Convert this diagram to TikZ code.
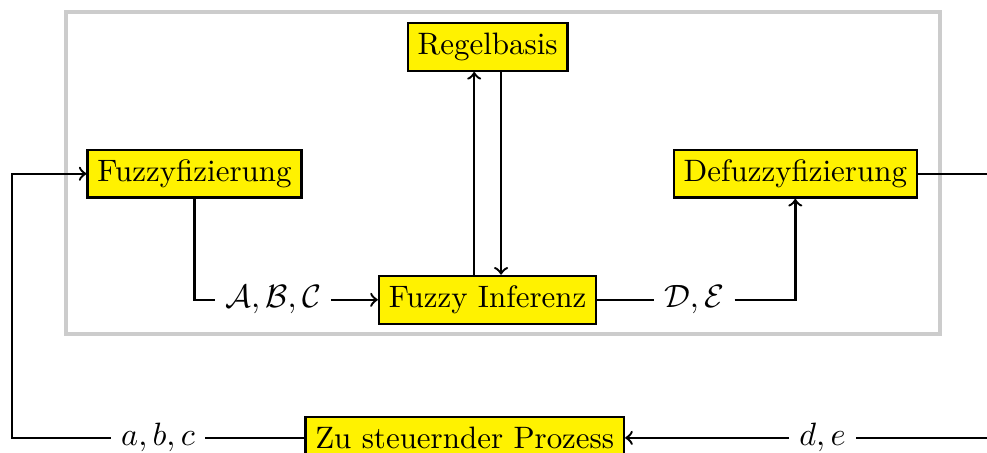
\documentclass[tikz,border=0pt]{standalone}
\usetikzlibrary{calc,positioning}

\begin{document}
\begin{tikzpicture}[
    node distance=3cm,
    font=\fontsize{10.5}{12.6}\selectfont,
    rectangle-fuzzy/.style={
      rectangle,
      fill=yellow,
      draw,
      thick
    },
    signal/.style={
      rectangle,
      inner sep=3.33pt
    },
  ]

  \useasboundingbox (0,0) rectangle (11.76,5.39);

  %%%%%%%%%%%%%%%%%%%%%%%%%%%%%%%%%%%%%%%%%%%%%%
  %%%%%%%%%%%%%%%% FRAME %%%%%%%%%%%%%%%%%%%%%%%%%
  %%%%%%%%%%%%%%%%%%%%%%%%%%%%%%%%%%%%%%%%%%%%%%
    \draw[black!20, line width=1.3pt] (0.787,1.407) rectangle (11.20,5.245);

  %%%%%%%%%%%%%%%%%%%%%%%%%%%%%%%%%%%%%%%%%%%%%%
  %%%%%%%%%%%%%%%% ACTUAL NODES %%%%%%%%%%%%%%%%%%%
  %%%%%%%%%%%%%%%%%%%%%%%%%%%%%%%%%%%%%%%%%%%%%%
    \node[rectangle-fuzzy] (regelbasis) at (5.81,4.83) {Regelbasis};
    \node[rectangle-fuzzy] (fuzzy) at (2.318,3.32) {Fuzzyfizierung};
    \node[rectangle-fuzzy] (defuzzy) at (9.476,3.32) {Defuzzyfizierung};
    \node[rectangle-fuzzy] (inferenz) at (5.81,1.818) {Fuzzy Inferenz};
    \node[rectangle-fuzzy] (prozess) at (5.537,0.173) {Zu steuernder Prozess};

    \node[signal] (ABC) at (3.254,1.818) {$\mathcal{A},\mathcal{B},\mathcal{C}$};
    \node[signal] (DE) at (8.27,1.818) {$\mathcal{D},\mathcal{E}$};
    \node[signal] (abc) at (1.883,0.173) {$a,b,c$};
    \node[signal] (de) at (9.80,0.173) {$d,e$};

  %%%%%%%%%%%%%%%%%%%%%%%%%%%%%%%%%%%%%%%%%%%%%%
  %%%%%%%%%%%%%%%% HELPING NODES %%%%%%%%%%%%%%%%%%%
  %%%%%%%%%%%%%%%%%%%%%%%%%%%%%%%%%%%%%%%%%%%%%%
    \coordinate (prozess-fuzzy) at (0.143,0.173);
    \coordinate (defuzzy-prozess) at (12.2,0.173);

  %%%%%%%%%%%%%%%%%%%%%%%%%%%%%%%%%%%%%%%%%%%%%%
  %%%%%%%%%%%%%%%%%% PATHS %%%%%%%%%%%%%%%%%%%%%%%
  %%%%%%%%%%%%%%%%%%%%%%%%%%%%%%%%%%%%%%%%%%%%%%
    \path [-, draw, thick] (fuzzy.south) |- (ABC.west);
    \path [->, draw, thick] (ABC) -- (inferenz);

    \path [->, draw, thick] ([xshift=-0.16cm]inferenz.north) -- ([xshift=-0.16cm]regelbasis.south);
    \path [->, draw, thick] ([xshift=0.16cm]regelbasis.south) -- ([xshift=0.16cm]inferenz.north);

    \path [-, draw, thick] (inferenz) -- (DE);
    \path [->, draw, thick] (DE.east) -| (defuzzy.south);

    \path [-, draw, thick] (defuzzy.east) -| (defuzzy-prozess) -- (de);
    \path [->, draw, thick] (de) -- (prozess);

    \path [-, draw, thick] (prozess) -- (abc);
    \path [->, draw, thick] (abc.west) -- (prozess-fuzzy) |- (fuzzy.west);

\end{tikzpicture}
\end{document}
